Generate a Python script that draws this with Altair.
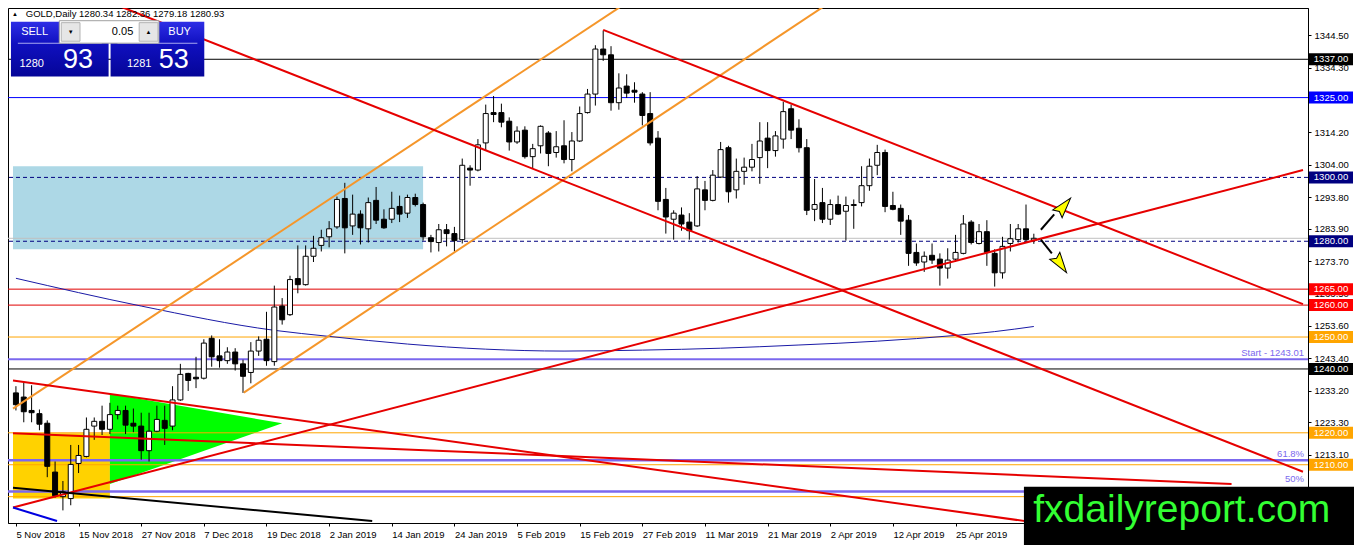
import altair as alt
import pandas as pd

# ---------------- layout ----------------
W, H = 1300, 515
PR, PB = 46, 22
X0, X1 = -0.375, 164.375
Y0, Y1 = 1191.75, 1353.06
SX, SY = W / 1318.0, H / 527.0
FONT = "Liberation Sans"

# ---------------- data ----------------
date_labels = ["5 Nov 2018", "15 Nov 2018", "27 Nov 2018", "7 Dec 2018", "19 Dec 2018",
               "2 Jan 2019", "14 Jan 2019", "24 Jan 2019", "5 Feb 2019", "15 Feb 2019",
               "27 Feb 2019", "11 Mar 2019", "21 Mar 2019", "2 Apr 2019", "12 Apr 2019",
               "25 Apr 2019"]
date_ticks = [0, 8, 16, 24, 32, 40, 48, 56, 64, 72, 80, 88, 96, 104, 112, 120]
price_ticks = [1344.5, 1334.3, 1314.2, 1304.0, 1293.8, 1283.9, 1273.7, 1263.5,
               1253.6, 1243.4, 1233.2, 1223.3, 1213.1]

opens = [1232.5, 1231.2, 1227.0, 1226.0, 1223.0, 1207.7, 1200.0, 1199.4, 1210.4, 1212.6,
         1222.1, 1223.6, 1221.1, 1225.7, 1227.0, 1223.0, 1222.1, 1214.4, 1220.5, 1223.9,
         1222.1, 1230.3, 1238.6, 1237.4, 1237.1, 1249.6, 1244.1, 1242.6, 1245.3, 1241.6,
         1238.9, 1245.6, 1249.3, 1242.3, 1259.7, 1257.0, 1268.3, 1266.4, 1275.3, 1278.7,
         1281.4, 1284.5, 1293.4, 1284.8, 1288.5, 1283.9, 1292.8, 1286.9, 1286.9, 1290.9,
         1288.8, 1293.7, 1291.5, 1281.1, 1279.6, 1283.6, 1282.4, 1280.5, 1302.9, 1302.3,
         1310.8, 1320.3, 1320.3, 1317.6, 1311.1, 1314.8, 1306.5, 1309.9, 1313.9, 1307.8,
         1309.9, 1305.6, 1311.4, 1320.3, 1326.1, 1340.2, 1338.4, 1323.4, 1328.6, 1327.3,
         1326.1, 1320.0, 1312.3, 1293.1, 1286.9, 1288.2, 1286.0, 1284.8, 1296.1, 1292.8,
         1300.1, 1309.3, 1296.1, 1301.9, 1303.2, 1306.2, 1312.3, 1308.4, 1312.0, 1321.5,
         1315.4, 1309.3, 1290.0, 1292.1, 1286.9, 1291.5, 1289.4, 1291.2, 1292.1, 1297.4,
         1303.8, 1307.8, 1291.2, 1290.3, 1286.6, 1276.5, 1273.5, 1275.6, 1274.4, 1271.6,
         1274.4, 1276.2, 1286.0, 1279.3, 1283.0, 1276.2, 1270.1, 1279.3, 1280.5, 1283.9,
         1280.34]
highs = [1234.6, 1235.8, 1234.9, 1227.3, 1223.9, 1211.0, 1204.9, 1216.2, 1216.2, 1224.8,
         1224.8, 1228.5, 1229.4, 1228.5, 1228.5, 1227.6, 1226.3, 1226.3, 1228.5, 1228.5,
         1234.6, 1241.6, 1238.8, 1243.8, 1249.3, 1250.5, 1249.3, 1246.8, 1246.5, 1242.9,
         1248.4, 1250.2, 1257.9, 1266.1, 1262.2, 1269.2, 1278.7, 1278.7, 1281.7, 1283.6,
         1286.3, 1294.0, 1298.3, 1294.6, 1289.7, 1293.7, 1297.0, 1290.0, 1295.5, 1294.3,
         1294.6, 1294.9, 1292.1, 1282.0, 1285.4, 1285.4, 1284.5, 1305.9, 1303.8, 1312.0,
         1322.8, 1325.5, 1323.1, 1318.8, 1316.0, 1316.0, 1310.5, 1316.3, 1314.5, 1314.5,
         1317.9, 1314.2, 1322.2, 1327.7, 1341.4, 1346.0, 1341.1, 1332.6, 1332.3, 1329.8,
         1326.7, 1326.7, 1314.5, 1296.7, 1289.7, 1290.6, 1288.8, 1300.4, 1298.9, 1302.3,
         1311.1, 1309.9, 1305.9, 1306.2, 1310.5, 1317.3, 1317.3, 1314.5, 1323.7, 1322.8,
         1318.2, 1312.0, 1299.5, 1296.7, 1293.1, 1294.3, 1294.0, 1293.1, 1303.5, 1305.9,
         1310.2, 1308.7, 1295.5, 1291.5, 1288.2, 1279.3, 1276.8, 1279.3, 1276.2, 1277.8,
         1282.0, 1288.2, 1286.6, 1285.4, 1286.6, 1277.5, 1281.4, 1285.4, 1285.4, 1291.5,
         1282.36]
lows = [1227.0, 1223.3, 1223.3, 1220.8, 1206.1, 1199.7, 1195.7, 1197.3, 1207.4, 1212.3,
        1217.8, 1219.3, 1219.6, 1224.2, 1219.6, 1220.2, 1211.6, 1211.0, 1220.2, 1216.2,
        1220.8, 1230.0, 1233.1, 1234.0, 1236.7, 1240.7, 1240.4, 1241.6, 1239.5, 1232.5,
        1235.5, 1244.1, 1241.0, 1241.0, 1253.9, 1256.6, 1263.7, 1266.1, 1273.5, 1276.8,
        1278.1, 1283.9, 1276.2, 1282.0, 1279.0, 1279.6, 1285.4, 1283.9, 1285.7, 1286.0,
        1287.3, 1290.9, 1280.2, 1276.5, 1276.8, 1278.4, 1276.8, 1279.3, 1297.4, 1301.9,
        1308.4, 1317.3, 1315.7, 1308.4, 1310.5, 1305.9, 1302.9, 1307.5, 1303.5, 1306.2,
        1304.4, 1301.9, 1311.1, 1320.0, 1322.5, 1336.5, 1320.9, 1321.2, 1324.9, 1323.4,
        1316.3, 1310.0, 1289.7, 1282.4, 1280.5, 1283.3, 1280.5, 1284.5, 1289.7, 1292.5,
        1299.8, 1292.1, 1293.4, 1297.7, 1301.9, 1298.0, 1302.9, 1306.5, 1309.0, 1312.0,
        1307.8, 1288.2, 1286.3, 1285.7, 1285.1, 1288.2, 1280.2, 1283.9, 1290.9, 1295.8,
        1300.7, 1289.1, 1289.7, 1282.0, 1272.3, 1272.3, 1270.4, 1272.9, 1266.1, 1268.3,
        1273.5, 1275.9, 1279.0, 1279.0, 1272.3, 1265.8, 1268.3, 1276.8, 1279.6, 1279.6,
        1279.18]
closes = [1228.8, 1226.6, 1226.3, 1222.7, 1209.5, 1200.3, 1201.5, 1210.1, 1212.9, 1221.1,
          1223.6, 1221.1, 1225.7, 1227.0, 1222.4, 1222.1, 1214.4, 1220.5, 1224.2, 1221.4,
          1230.3, 1238.3, 1236.4, 1236.9, 1248.1, 1243.8, 1242.6, 1245.3, 1241.6, 1237.7,
          1245.6, 1249.0, 1242.6, 1259.4, 1255.4, 1268.0, 1266.4, 1275.3, 1277.8, 1281.1,
          1283.9, 1293.1, 1284.2, 1288.5, 1284.2, 1292.1, 1286.6, 1284.2, 1290.3, 1288.5,
          1293.7, 1291.5, 1281.4, 1279.9, 1283.6, 1282.4, 1280.2, 1303.8, 1302.3, 1310.2,
          1320.0, 1319.7, 1317.3, 1311.1, 1314.5, 1306.5, 1309.0, 1316.0, 1307.5, 1309.6,
          1305.6, 1311.4, 1320.0, 1326.1, 1340.2, 1338.4, 1323.4, 1328.0, 1326.4, 1326.7,
          1319.4, 1310.8, 1292.5, 1287.6, 1288.8, 1285.4, 1283.3, 1296.4, 1292.8, 1300.7,
          1308.7, 1295.5, 1301.9, 1303.2, 1305.6, 1311.4, 1308.4, 1313.0, 1320.6, 1314.8,
          1309.3, 1289.7, 1291.5, 1286.9, 1291.5, 1288.5, 1291.2, 1291.5, 1297.4, 1303.5,
          1307.8, 1290.9, 1290.0, 1286.3, 1276.2, 1273.2, 1275.3, 1274.1, 1271.6, 1274.1,
          1276.5, 1285.4, 1279.6, 1283.0, 1276.5, 1270.1, 1278.4, 1280.8, 1283.9, 1280.5,
          1280.93]

# moving average (read at selected bars)
ma_index = [0, 16, 33, 40, 50, 60, 70, 80, 90, 100, 110, 120, 125, 130]
ma_value = [1268.4, 1259.7, 1252.1, 1250.2, 1247.8, 1246.2, 1245.6, 1245.9, 1246.5,
            1247.5, 1248.7, 1250.5, 1251.7, 1253.3]

# trend lines (bar index, price)
tl_name = ["orange_up", "orange_low", "red_a", "red_b", "red_c", "red_d", "red_e", "black", "blue"]
tl_color = ["#F5962A", "#F5962A", "#E60000", "#E60000", "#E60000", "#E60000", "#E60000",
            "#000000", "#0000E0"]
tl_i0 = [-0.375, 29.1, 75.0, 11.9, -0.375, -0.375, -0.375, -0.375, -0.375]
tl_p0 = [1227.6, 1232.6, 1346.2, 1354.9, 1196.6, 1236.4, 1219.9, 1202.8, 1196.6]
tl_i1 = [78.1, 104.0, 164.375, 164.375, 164.375, 129.6, 155.25, 45.5, 5.25]
tl_p1 = [1354.9, 1354.9, 1260.3, 1207.8, 1302.3, 1192.1, 1204.0, 1192.4, 1192.4]

# zones
zone_i0 = [-0.375, -0.375]
zone_i1 = [52.0, 12.0]
zone_p0 = [1303.5, 1219.9]
zone_p1 = [1277.5, 1199.4]
zone_color = ["#ADD8E6", "#FFD200"]

tri_i = [12.0, 34.0]
tri_top = [1232.2, 1223.0]
tri_bot = [1204.0, 1223.0]

# horizontal levels
solid_p = [1337.0, 1325.0, 1280.93, 1265.0, 1260.0, 1250.0, 1243.01, 1240.0, 1220.0,
           1211.4, 1210.0, 1201.6, 1200.0]
solid_c = ["#000000", "#0000FF", "#C0C0C0", "#E00000", "#E00000", "#FFA500", "#7B68EE",
           "#000000", "#FFA500", "#7B68EE", "#FFA500", "#7B68EE", "#FFA500"]
solid_w = [1, 1, 1, 1, 1, 1, 2, 1, 1, 2.5, 1, 2.5, 1]
dashed_p = [1300.0, 1280.0]

tag_p = [1337.0, 1325.0, 1300.0, 1280.0, 1265.0, 1260.0, 1250.0, 1240.0, 1220.0, 1210.0]
tag_c = ["#000000", "#0000FF", "#000080", "#000080", "#FF0000", "#FF0000", "#FFA500",
         "#000000", "#FFA500", "#FFA500"]

fib_text = ["Start - 1243.01", "61.8%", "50%"]
fib_p = [1243.01, 1211.4, 1203.6]

arrow_i0 = [130.9, 130.9]
arrow_p0 = [1283.6, 1280.5]
arrow_i1 = [132.6, 132.3]
arrow_p1 = [1288.4, 1276.2]
head_i = [133.6, 133.2]
head_p = [1290.3, 1273.6]
head_angle = [40, 145]

# ---------------- frames ----------------
candles = pd.DataFrame({"i": list(range(len(opens))), "o": opens, "h": highs,
                        "l": lows, "c": closes})
candles["fill"] = ["#FFFFFF" if c >= o else "#000000" for o, c in zip(opens, closes)]

xs = alt.Scale(domain=[X0, X1], nice=False, zero=False)
ys = alt.Scale(domain=[Y0, Y1], nice=False, zero=False)

label_expr = "[" + ",".join("'%s'" % d for d in date_labels) + "][round(datum.value/8)]"
x_axis = alt.Axis(values=date_ticks, labelExpr=label_expr, orient="bottom", title=None,
                  grid=False, tickSize=3, labelAlign="left", labelPadding=3,
                  labelOverlap=False, labelFlush=False, labelBound=False,
                  domainColor="black", tickColor="black", labelColor="black",
                  labelFont=FONT, labelFontSize=9.5)
y_axis = alt.Axis(values=price_ticks, format=".2f", orient="right", title=None, grid=False,
                  tickSize=3, labelPadding=3, labelOverlap=False, labelFlush=False,
                  domainColor="black", tickColor="black", labelColor="black",
                  labelFont=FONT, labelFontSize=9.5)


def xq(f):
    return alt.X(f, type="quantitative", scale=xs, axis=x_axis)


def yq(f):
    return alt.Y(f, type="quantitative", scale=ys, axis=y_axis)


one = pd.DataFrame({"k": [0]})


def px(x):
    return x * SX


def py(y):
    return (y - 6) * SY


def prect(x0, y0, x1, y1, **kw):
    return alt.Chart(one).mark_rect(**kw).encode(
        x=alt.value(px(x0)), x2=alt.value(px(x1)), y=alt.value(py(y0)), y2=alt.value(py(y1)))


def ptext(x, y, txt, **kw):
    kw.setdefault("font", FONT)
    return alt.Chart(one).mark_text(text=txt, **kw).encode(
        x=alt.value(px(x)), y=alt.value(py(y)))


layers = []

zones = pd.DataFrame({"i0": zone_i0, "i1": zone_i1, "p0": zone_p0, "p1": zone_p1, "col": zone_color})
layers.append(alt.Chart(zones).mark_rect().encode(
    x=xq("i0"), x2="i1", y=yq("p0"), y2="p1", color=alt.Color("col:N", scale=None)))

tri = pd.DataFrame({"i": tri_i, "t": tri_top, "b": tri_bot})
layers.append(alt.Chart(tri).mark_area(color="#00FF00", opacity=1).encode(
    x=xq("i"), y=yq("t"), y2="b"))

lv = pd.DataFrame({"p": solid_p, "col": solid_c, "w": solid_w})
layers.append(alt.Chart(lv).mark_rule().encode(
    y=yq("p"), color=alt.Color("col:N", scale=None),
    strokeWidth=alt.StrokeWidth("w:Q", scale=None)))
layers.append(alt.Chart(pd.DataFrame({"p": dashed_p})).mark_rule(
    color="#000080", strokeDash=[4, 3], strokeWidth=1).encode(y=yq("p")))

ma = pd.DataFrame({"i": ma_index, "p": ma_value})
layers.append(alt.Chart(ma).mark_line(color="#1A1AA6", strokeWidth=1, interpolate="monotone").encode(
    x=xq("i"), y=yq("p")))

# candles
layers.append(alt.Chart(candles).mark_rule(color="black", strokeWidth=1).encode(
    x=xq("i"), y=yq("l"), y2="h"))
layers.append(alt.Chart(candles).mark_bar(size=5, stroke="black", strokeWidth=1).encode(
    x=xq("i"), y=yq("o"), y2="c", fill=alt.Fill("fill:N", scale=None)))

# trend lines
rows = []
for n, c, a0, b0, a1, b1 in zip(tl_name, tl_color, tl_i0, tl_p0, tl_i1, tl_p1):
    rows.append({"name": n, "col": c, "i": a0, "p": b0})
    rows.append({"name": n, "col": c, "i": a1, "p": b1})
tl = pd.DataFrame(rows)
layers.append(alt.Chart(tl).mark_line(strokeWidth=2, clip=True).encode(
    x=xq("i"), y=yq("p"), detail="name:N", color=alt.Color("col:N", scale=None)))

# arrows
ar = pd.DataFrame({"i0": arrow_i0, "p0": arrow_p0, "i1": arrow_i1, "p1": arrow_p1})
layers.append(alt.Chart(ar).mark_rule(color="black", strokeWidth=2).encode(
    x=xq("i0"), x2="i1", y=yq("p0"), y2="p1"))
hd = pd.DataFrame({"i": head_i, "p": head_p, "a": head_angle})
layers.append(alt.Chart(hd).mark_point(
    shape="M0,-1.3L0.6,0.7L0,0.4L-0.6,0.7Z", filled=True, fill="#FFFF00",
    stroke="black", strokeWidth=1, size=420, opacity=1).encode(
    x=xq("i"), y=yq("p"), angle=alt.Angle("a:Q", scale=None)))

# fib labels
fb = pd.DataFrame({"t": fib_text, "p": fib_p})
layers.append(alt.Chart(fb).mark_text(align="right", baseline="bottom", dy=-1, color="#7B68EE",
                                       font=FONT, fontSize=9.5).encode(
    x=alt.value(1314 * SX), y=yq("p"), text="t:N"))

# price tags on axis
tg = pd.DataFrame({"p": tag_p, "col": tag_c, "t": ["%.2f" % v for v in tag_p]})
layers.append(alt.Chart(tg).mark_tick(orient="horizontal", size=44, thickness=12, opacity=1).encode(
    y=yq("p"), x=alt.value(W + 23), color=alt.Color("col:N", scale=None)))
layers.append(alt.Chart(tg).mark_text(color="white", font=FONT, fontSize=9.5).encode(
    y=yq("p"), x=alt.value(W + 23), text="t:N"))

# top-left panel
grad = alt.Gradient(gradient="linear",
                    stops=[alt.GradientStop(color="#2E2EE6", offset=0),
                           alt.GradientStop(color="#1010C0", offset=0.4),
                           alt.GradientStop(color="#050598", offset=1)],
                    x1=0, x2=0, y1=0, y2=1)
layers.append(ptext(7, 12, "▲", fontSize=6, color="black", align="center", baseline="middle"))
layers.append(ptext(18, 12, "GOLD,Daily  1280.34 1282.36 1279.18 1280.93", fontSize=9.5,
                    color="black", align="left", baseline="middle"))
layers.append(prect(3, 20, 102, 76, fill=grad))
layers.append(prect(104, 20, 199, 76, fill=grad))
layers.append(prect(10, 41.5, 95, 42.5, fill="#A8A8F0"))
layers.append(prect(111, 41.5, 192, 42.5, fill="#A8A8F0"))
layers.append(prect(52, 19, 153, 42, fill="#FFFFFF", stroke="#A0A0A0", strokeWidth=1))
layers.append(prect(54, 21, 73, 40, fill="#E6E6E6", stroke="#B4B4B4", strokeWidth=1))
layers.append(prect(133, 21, 152, 40, fill="#E6E6E6", stroke="#B4B4B4", strokeWidth=1))
layers.append(ptext(63.5, 30.5, "▼", fontSize=6, color="black", align="center", baseline="middle"))
layers.append(ptext(142.5, 30.5, "▲", fontSize=6, color="black", align="center", baseline="middle"))
layers.append(ptext(127, 31, "0.05", fontSize=11, color="black", align="right", baseline="middle"))
layers.append(ptext(27, 31, "SELL", fontSize=11, color="white", align="center", baseline="middle"))
layers.append(ptext(174, 31, "BUY", fontSize=11, color="white", align="center", baseline="middle"))
layers.append(ptext(24, 63, "1280", fontSize=11, color="white", align="center", baseline="middle"))
layers.append(ptext(71, 59, "93", fontSize=27, color="white", align="center", baseline="middle"))
layers.append(ptext(133, 63, "1281", fontSize=11, color="white", align="center", baseline="middle"))
layers.append(ptext(168, 59, "53", fontSize=27, color="white", align="center", baseline="middle"))

# watermark box
layers.append(alt.Chart(one).mark_rect(fill="black").encode(
    x=alt.value(px(1030)), x2=alt.value(W + PR), y=alt.value(py(496)), y2=alt.value(H + PB)))
layers.append(alt.Chart(one).mark_text(text="fxdailyreport.com", font=FONT, fontSize=39,
                                       color="#33FF33", align="center", baseline="middle").encode(
    x=alt.value(px(1190)), y=alt.value(py(520))))

chart = alt.layer(*layers).properties(
    width=W, height=H,
    autosize=alt.AutoSizeParams(type="none"),
    padding={"left": 0, "top": 0, "right": PR, "bottom": PB},
).configure(background="white").configure_view(stroke="black", strokeWidth=1)

chart.save("out.html", embed_options={"renderer": "svg", "actions": False})
